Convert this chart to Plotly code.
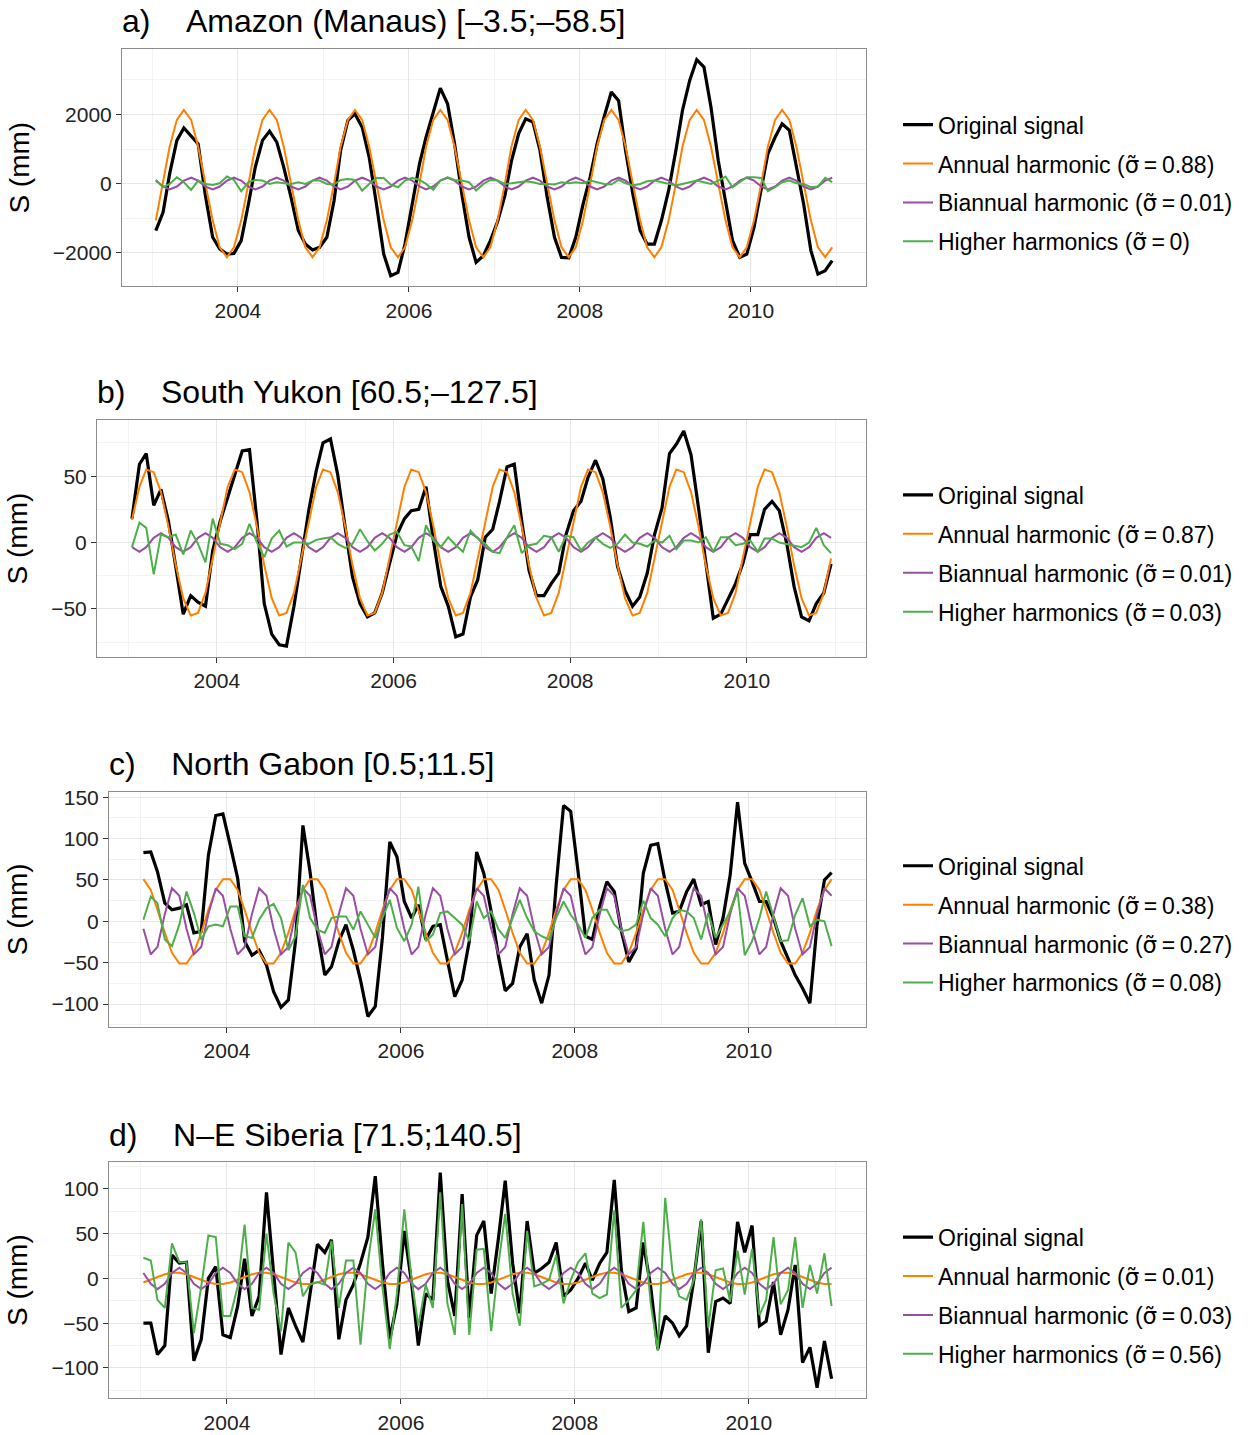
import pandas as pd
import plotly.graph_objects as go

# ---------------- data (monthly, Jan 2003 - Dec 2010) ----------------
dates = pd.date_range("2003-01-01", periods=96, freq="MS") + pd.Timedelta(days=14)

amazon_original = [
    -1360, -830, 280, 1250, 1610, 1390, 1150, -350, -1555, -1890, -2040, -2020,
    -1650, -590, 470, 1250, 1515, 1200, 470, -400, -1360, -1750, -1920, -1845,
    -1555, -490, 960, 1830, 2020, 1630, 760, -590, -2040, -2666, -2570, -1750,
    -590, 570, 1340, 2070, 2763, 2310, 1150, -300, -1555, -2280, -2090, -1650,
    -1100, -350, 650, 1450, 1874, 1780, 960, -400, -1555, -2135, -2150, -1555,
    -600, 200, 1150, 1950, 2650, 2400, 960, -300, -1360, -1750, -1750, -1070,
    -200, 960, 2115, 2985, 3584, 3370, 2210, 670, -490, -1650, -2135, -2040,
    -1265, -100, 860, 1340, 1730, 1540, 470, -590, -1940, -2620, -2520, -2230,
]
amazon_annual = [
    -1065, 0, 1065, 1845, 2130, 1845, 1065, 0, -1065, -1845, -2130, -1845,
    -1065, 0, 1065, 1845, 2130, 1845, 1065, 0, -1065, -1845, -2130, -1845,
    -1065, 0, 1065, 1845, 2130, 1845, 1065, 0, -1065, -1845, -2130, -1845,
    -1065, 0, 1065, 1845, 2130, 1845, 1065, 0, -1065, -1845, -2130, -1845,
    -1065, 0, 1065, 1845, 2130, 1845, 1065, 0, -1065, -1845, -2130, -1845,
    -1065, 0, 1065, 1845, 2130, 1845, 1065, 0, -1065, -1845, -2130, -1845,
    -1065, 0, 1065, 1845, 2130, 1845, 1065, 0, -1065, -1845, -2130, -1845,
    -1065, 0, 1065, 1845, 2130, 1845, 1065, 0, -1065, -1845, -2130, -1845,
]
amazon_biannual = [
    85, -85, -170, -85, 85, 170, 85, -85, -170, -85, 85, 170,
    85, -85, -170, -85, 85, 170, 85, -85, -170, -85, 85, 170,
    85, -85, -170, -85, 85, 170, 85, -85, -170, -85, 85, 170,
    85, -85, -170, -85, 85, 170, 85, -85, -170, -85, 85, 170,
    85, -85, -170, -85, 85, 170, 85, -85, -170, -85, 85, 170,
    85, -85, -170, -85, 85, 170, 85, -85, -170, -85, 85, 170,
    85, -85, -170, -85, 85, 170, 85, -85, -170, -85, 85, 170,
    85, -85, -170, -85, 85, 170, 85, -85, -170, -85, 85, 170,
]
amazon_higher = [
    106, -106, -10, 184, 39, -184, 87, -10, -39, 10, 203, 106,
    -222, 39, 106, 87, -10, 39, 10, -10, 39, -10, 87, 87,
    -10, -29, 106, 135, 106, -203, -10, 164, 164, -29, -106, 87,
    164, 106, -10, -184, 87, 184, 106, 87, 39, -203, -10, 106,
    87, -10, 10, 39, 68, 39, -10, -10, -29, 39, 10, 39,
    10, 87, 39, -10, -29, 106, 10, -58, -10, 68, 87, 39,
    -29, -58, -10, 39, 87, 39, -10, 87, 203, -106, 39, 184,
    184, 164, -222, -106, 39, 87, 10, -10, -106, -87, 164, 39,
]

yukon_original = [
    18, 59, 67, 28, 40, 16, -18, -54, -40, -45, -48, -6,
    16, 34, 52, 69, 70, 16, -46, -69, -77, -78, -48, -11,
    24, 54, 75, 78, 51, 11, -26, -46, -56, -53, -38, -16,
    6, 18, 24, 25, 42, 1, -33, -48, -71, -69, -41, -28,
    4, 10, 31, 57, 59, 16, -21, -40, -40, -31, -23, 6,
    24, 31, 49, 62, 48, 19, -18, -36, -48, -41, -23, 6,
    26, 67, 74, 84, 66, 26, -13, -57, -54, -43, -31, -16,
    6, 6, 25, 31, 24, -1, -33, -56, -59, -46, -38, -16,
]
yukon_annual = [
    17, 42, 55, 53, 38, 12, -17, -42, -55, -53, -38, -12,
    17, 42, 55, 53, 38, 12, -17, -42, -55, -53, -38, -12,
    17, 42, 55, 53, 38, 12, -17, -42, -55, -53, -38, -12,
    17, 42, 55, 53, 38, 12, -17, -42, -55, -53, -38, -12,
    17, 42, 55, 53, 38, 12, -17, -42, -55, -53, -38, -12,
    17, 42, 55, 53, 38, 12, -17, -42, -55, -53, -38, -12,
    17, 42, 55, 53, 38, 12, -17, -42, -55, -53, -38, -12,
    17, 42, 55, 53, 38, 12, -17, -42, -55, -53, -38, -12,
]
yukon_biannual = [
    -3.5, -7, -3.5, 3.5, 7, 3.5, -3.5, -7, -3.5, 3.5, 7, 3.5,
    -3.5, -7, -3.5, 3.5, 7, 3.5, -3.5, -7, -3.5, 3.5, 7, 3.5,
    -3.5, -7, -3.5, 3.5, 7, 3.5, -3.5, -7, -3.5, 3.5, 7, 3.5,
    -3.5, -7, -3.5, 3.5, 7, 3.5, -3.5, -7, -3.5, 3.5, 7, 3.5,
    -3.5, -7, -3.5, 3.5, 7, 3.5, -3.5, -7, -3.5, 3.5, 7, 3.5,
    -3.5, -7, -3.5, 3.5, 7, 3.5, -3.5, -7, -3.5, 3.5, 7, 3.5,
    -3.5, -7, -3.5, 3.5, 7, 3.5, -3.5, -7, -3.5, 3.5, 7, 3.5,
    -3.5, -7, -3.5, 3.5, 7, 3.5, -3.5, -7, -3.5, 3.5, 7, 3.5,
]
yukon_higher = [
    -3.5, 15, 11, -24, 6, 4, 6, -9, 9, -1, -15, 18,
    -1, -2, -5, -1, 14, 0, -11, 3, 9, -3, 0, 0,
    -1, 2, 3, 4, -1, -4, -1, 10, 1, -6, -1, 6,
    8, -2, -3, -14, 13, 1.5, -3.5, 4, -2, -7, 9, 3,
    -1, -7, -8, 4, 13, -8, -2, -1, 5, 4, -7, 5,
    4, -6, 0, 4, -1, -4, -1, 6, 0, -1, -3, 1.5,
    0, 5, -5, 1.5, 1.5, 0, 4, -7, 4, 4, -2, -1,
    1.5, -7, 3, 3, 0, -1, -2, -3.5, 0, 11, -2, -8,
]

gabon_original = [
    83, 84, 60, 22, 14, 16, 20, -14, -12, 80, 128, 130,
    92, 52, -24, -41, -35, -53, -85, -104, -95, -24, 116, 60,
    -12, -65, -55, -24, -4, -35, -71, -115, -103, -20, 96, 78,
    24, 4, 20, -22, -6, -4, -47, -91, -71, -24, 84, 58,
    12, -43, -84, -75, -31, -15, -71, -99, -65, 44, 140, 133,
    60, -18, -22, 18, 48, 36, -12, -49, -33, 58, 92, 94,
    48, 10, 12, 36, 51, 20, 24, -28, 4, 56, 144, 70,
    48, 24, 24, 4, -24, -45, -65, -81, -99, -4, 50, 59,
]
gabon_annual = [
    51, 38, 14, -14, -38, -51, -51, -38, -14, 14, 38, 51,
    51, 38, 14, -14, -38, -51, -51, -38, -14, 14, 38, 51,
    51, 38, 14, -14, -38, -51, -51, -38, -14, 14, 38, 51,
    51, 38, 14, -14, -38, -51, -51, -38, -14, 14, 38, 51,
    51, 38, 14, -14, -38, -51, -51, -38, -14, 14, 38, 51,
    51, 38, 14, -14, -38, -51, -51, -38, -14, 14, 38, 51,
    51, 38, 14, -14, -38, -51, -51, -38, -14, 14, 38, 51,
    51, 38, 14, -14, -38, -51, -51, -38, -14, 14, 38, 51,
]
gabon_biannual = [
    -9, -40, -31, 9, 40, 31, -9, -40, -31, 9, 40, 31,
    -9, -40, -31, 9, 40, 31, -9, -40, -31, 9, 40, 31,
    -9, -40, -31, 9, 40, 31, -9, -40, -31, 9, 40, 31,
    -9, -40, -31, 9, 40, 31, -9, -40, -31, 9, 40, 31,
    -9, -40, -31, 9, 40, 31, -9, -40, -31, 9, 40, 31,
    -9, -40, -31, 9, 40, 31, -9, -40, -31, 9, 40, 31,
    -9, -40, -31, 9, 40, 31, -9, -40, -31, 9, 40, 31,
    -9, -40, -31, 9, 40, 31, -9, -40, -31, 9, 40, 31,
]
gabon_higher = [
    2, 30, 22, -22, -30, -4, 36, 10, -22, -6, -4, -6,
    18, 18, -18, -20, 2, 16, 21, 4, -35, -18, 44, 4,
    -10, -14, 4, 6, 6, -10, 12, -4, -20, 4, 26, -8,
    -24, -4, 42, -24, -16, 10, 12, 4, -4, -24, 24, 4,
    12, -10, -20, 4, 26, 4, -12, -18, -22, 4, 24, 8,
    -4, -20, 4, 14, 14, -4, -12, -10, -4, 25, 4, -4,
    -18, 4, 14, 12, 4, -22, 10, -20, -4, 12, 36, -41,
    -24, 4, 36, 4, -24, -23, 8, 28, -6, 2, 0, -30,
]

siberia_original = [
    -50, -50, -85, -75, 26, 17, 18, -92, -68, 0, 13, -63,
    -66, -31, 22, -42, -20, 96, 6, -85, -33, -53, -71, -17,
    38, 29, 43, -68, -24, -7, 17, 46, 114, 17, -68, -28,
    53, -6, -75, -17, -24, 118, -2, -42, 94, -44, 48, 64,
    -17, 46, 109, 17, -39, 64, 6, 11, 18, 40, -20, -13,
    0, 17, -2, 17, 29, 110, 9, -37, -33, 40, -9, -79,
    -42, -50, -64, -53, -2, 64, -83, -26, -22, -28, 63, 29,
    59, -53, -48, -4, -63, -35, 15, -94, -77, -122, -70, -112,
]
siberia_annual = [
    -4.6, -1.7, 1.7, 4.6, 6.3, 6.3, 4.6, 1.7, -1.7, -4.6, -6.3, -6.3,
    -4.6, -1.7, 1.7, 4.6, 6.3, 6.3, 4.6, 1.7, -1.7, -4.6, -6.3, -6.3,
    -4.6, -1.7, 1.7, 4.6, 6.3, 6.3, 4.6, 1.7, -1.7, -4.6, -6.3, -6.3,
    -4.6, -1.7, 1.7, 4.6, 6.3, 6.3, 4.6, 1.7, -1.7, -4.6, -6.3, -6.3,
    -4.6, -1.7, 1.7, 4.6, 6.3, 6.3, 4.6, 1.7, -1.7, -4.6, -6.3, -6.3,
    -4.6, -1.7, 1.7, 4.6, 6.3, 6.3, 4.6, 1.7, -1.7, -4.6, -6.3, -6.3,
    -4.6, -1.7, 1.7, 4.6, 6.3, 6.3, 4.6, 1.7, -1.7, -4.6, -6.3, -6.3,
    -4.6, -1.7, 1.7, 4.6, 6.3, 6.3, 4.6, 1.7, -1.7, -4.6, -6.3, -6.3,
]
siberia_biannual = [
    6, -6, -12, -6, 6, 12, 6, -6, -12, -6, 6, 12,
    6, -6, -12, -6, 6, 12, 6, -6, -12, -6, 6, 12,
    6, -6, -12, -6, 6, 12, 6, -6, -12, -6, 6, 12,
    6, -6, -12, -6, 6, 12, 6, -6, -12, -6, 6, 12,
    6, -6, -12, -6, 6, 12, 6, -6, -12, -6, 6, 12,
    6, -6, -12, -6, 6, 12, 6, -6, -12, -6, 6, 12,
    6, -6, -12, -6, 6, 12, 6, -6, -12, -6, 6, 12,
    6, -6, -12, -6, 6, 12, 6, -6, -12, -6, 6, 12,
]
siberia_higher = [
    23, 20, -24, -33, 39, 18, 18, -61, -9, 48, 46, -42,
    -42, -9, 60, -33, -35, 50, -17, -59, 40, 29, -20, -7,
    -4, -7, 42, -33, 20, 20, -74, 17, 77, -9, -79, -17,
    77, -2, -53, -7, -33, 96, -28, -63, 83, -63, 32, 33,
    -59, 17, 72, -17, -53, 53, -9, -6, -2, 26, -28, -2,
    18, 28, -17, -22, -18, 76, -33, -24, -13, 63, -28, -81,
    90, 6, -20, -24, -2, 66, -55, 9, 11, -26, 31, -18,
    33, -41, -24, 46, -29, -13, 46, -33, 15, -17, 28, -31,
]

panel_titles = [
    "a)\u00a0\u00a0\u00a0\u00a0Amazon (Manaus) [\u20133.5;\u201358.5]",
    "b)\u00a0\u00a0\u00a0\u00a0South Yukon [60.5;\u2013127.5]",
    "c)\u00a0\u00a0\u00a0\u00a0North Gabon [0.5;11.5]",
    "d)\u00a0\u00a0\u00a0\u00a0N\u2013E Siberia [71.5;140.5]",
]
sigma_annual = ["0.88", "0.87", "0.38", "0.01"]
sigma_biannual = ["0.01", "0.01", "0.27", "0.03"]
sigma_higher = ["0", "0.03", "0.08", "0.56"]
series_names = ["Original signal", "Annual harmonic", "Biannual harmonic", "Higher harmonics"]
y_major = [2000, 50, 50, 50]

panels = [
    [amazon_original, amazon_annual, amazon_biannual, amazon_higher],
    [yukon_original, yukon_annual, yukon_biannual, yukon_higher],
    [gabon_original, gabon_annual, gabon_biannual, gabon_higher],
    [siberia_original, siberia_annual, siberia_biannual, siberia_higher],
]

# ---------------- styling / layout ----------------
W, H = 1250, 1435
FONT = "Liberation Sans, Arial, Helvetica, sans-serif"
colors = ["#000000", "#ff7f00", "#984ea3", "#4daf4a"]
widths = [3.2, 2, 2, 2]
# panel boxes in pixels: left, right, top, bottom
boxes = [(122, 866, 48, 286), (97, 866, 420, 657), (109, 866, 792, 1028), (109, 866, 1163, 1400)]
title_y = [20, 392, 764, 1136]
legend_y = [182.5, 553.5, 925, 1297]


def Y(y):
    # small vertical correction for the page rendering
    return y - (5.0 - 3.3 * y / 1400.0)


SIG = "<span style='font-family:DejaVu Sans'>\u03c3\u0303</span>"

span = dates[-1] - dates[0]
x_range = [dates[0] - span * 0.05, dates[-1] + span * 0.05]

fig = go.Figure()
layout = dict(
    width=W, height=H, margin=dict(l=0, r=0, t=0, b=0),
    paper_bgcolor="white", plot_bgcolor="white",
    font=dict(family=FONT, color="#000000"),
    annotations=[],
)

for p in range(4):
    sfx = "" if p == 0 else str(p + 1)
    leg = "legend" + sfx
    labels = [
        series_names[0],
        f"{series_names[1]} ({SIG}\u2009=\u2009{sigma_annual[p]})",
        f"{series_names[2]} ({SIG}\u2009=\u2009{sigma_biannual[p]})",
        f"{series_names[3]} ({SIG}\u2009=\u2009{sigma_higher[p]})",
    ]
    for k in range(4):
        fig.add_trace(go.Scatter(
            x=dates, y=panels[p][k], mode="lines", name=labels[k],
            line=dict(color=colors[k], width=widths[k]),
            xaxis="x" + sfx, yaxis="y" + sfx, legend=leg,
            legendgroup=f"g{p}_{k}", hoverinfo="skip",
        ))

    l, r, t, b = boxes[p]
    allv = [v for s in panels[p] for v in s]
    lo, hi = min(allv), max(allv)
    pad = (hi - lo) * 0.05
    layout["xaxis" + sfx] = dict(
        domain=[l / W, r / W], anchor="y" + sfx, type="date", range=x_range,
        tick0="2004-01-01", dtick="M24", tickformat="%Y",
        ticks="outside", ticklen=5, tickwidth=1.3, tickcolor="#333333",
        tickfont=dict(size=21, color="#222222", family=FONT),
        showgrid=True, gridcolor="#e6e6e6", gridwidth=1,
        minor=dict(dtick="M12", tick0="2003-01-01", showgrid=True, gridcolor="#f3f3f3", gridwidth=1),
        showline=True, linecolor="#8c8c8c", linewidth=1, mirror=True, zeroline=False,
    )
    layout["yaxis" + sfx] = dict(
        domain=[1 - Y(b) / H, 1 - Y(t) / H], anchor="x" + sfx, range=[lo - pad, hi + pad],
        tick0=0, dtick=y_major[p],
        ticks="outside", ticklen=5, tickwidth=1.3, tickcolor="#333333",
        tickfont=dict(size=21, color="#222222", family=FONT),
        showgrid=True, gridcolor="#e6e6e6", gridwidth=1,
        minor=dict(dtick=y_major[p] / 2, tick0=0, showgrid=True, gridcolor="#f3f3f3", gridwidth=1),
        showline=True, linecolor="#8c8c8c", linewidth=1, mirror=True, zeroline=False,
        title=dict(text="S (mm)", font=dict(size=28, family=FONT, color="#000000")),
    )
    layout[leg] = dict(
        x=898 / W, xanchor="left", y=1 - Y(legend_y[p]) / H, yanchor="middle",
        font=dict(size=23, family=FONT, color="#000000"),
        bgcolor="rgba(0,0,0,0)", tracegroupgap=6, traceorder="grouped",
    )
    layout["annotations"].append(dict(
        text=panel_titles[p], xref="paper", yref="paper",
        x=(l - 2) / W, y=1 - Y(title_y[p]) / H, xanchor="left", yanchor="middle",
        showarrow=False, font=dict(size=32, family=FONT, color="#000000"),
    ))

fig.update_layout(**layout)
fig.write_html("out.html", config={"displayModeBar": False},
               post_script="document.body.style.margin='0';")
